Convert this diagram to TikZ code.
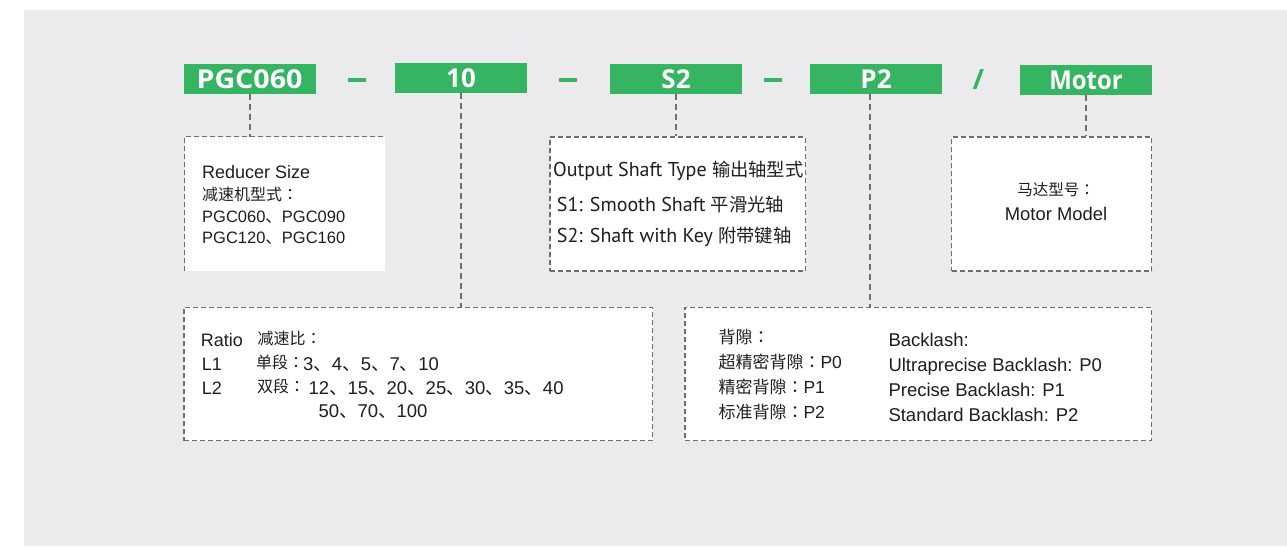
\documentclass[tikz,border=0pt]{standalone}
\usepackage{fontspec}
\setmainfont{Liberation Sans}
\newfontfamily\cjk{Noto Sans CJK SC}
\newfontfamily\cjkjp{Noto Sans CJK JP}
\newfontfamily\opb{Open Sans}
\newfontfamily\pts{PT Sans}
\newcommand\fsz[1]{\fontsize{#1}{#1}\selectfont}
\newcommand\zcol{{\cjkjp ：}}
\definecolor{bggray}{RGB}{235,235,237}
\definecolor{pgreen}{RGB}{53,181,98}
\definecolor{lgray}{RGB}{110,110,110}
\definecolor{txtc}{RGB}{30,30,30}
\tikzset{
  gbox/.style={fill=pgreen, minimum width=132, minimum height=30, inner sep=0,
    text=white, font=\opb\bfseries\fsz{26}, text height=19, text depth=0},
  gdash/.style={fill=pgreen, minimum width=18, minimum height=4, inner sep=0},
  infobox/.style={fill=white, draw=lgray, line width=1.2pt, dash pattern=on 5pt off 3pt, inner sep=0},
  plainbox/.style={fill=white, inner sep=0},
  edge/.style={draw=lgray, line width=1.2pt, dash pattern=on 5pt off 3pt},
  conn/.style={draw=lgray, line width=2pt, dash pattern=on 6pt off 4pt},
  txt/.style={anchor=base west, inner sep=0, text=txtc},
}
\begin{document}
\begin{tikzpicture}[x=1pt, y=-1pt]
\useasboundingbox (0,0) rectangle (1287,546);
\fill[white] (0,0) rectangle (1287,546);
\fill[bggray] (24,10) rectangle (1287,546);

% top code row
\node[gbox] (pgc) at (249.5,78.5) {\scalebox{1.1}[1]{PGC060}};
\node[gdash] (d1) at (357,80) {};
\node[gbox] (ten) at (461,78) {10};
\node[gdash] (d2) at (568,79.5) {};
\node[gbox] (s2) at (676,79) {S2};
\node[gdash] (d3) at (772.5,79.5) {};
\node[gbox] (p2) at (876,79) {P2};
\node[inner sep=0, text=pgreen, font=\opb\bfseries\fsz{28}, text height=20, text depth=0] (sl) at (978.5,79.5) {/};
\node[gbox] (mot) at (1086,79.5) {\scalebox{0.92}[1]{Motor}};

% boxes
\node[plainbox, minimum width=200, minimum height=134] (rs) at (285,204) {};
\draw[edge] (rs.south west) -- (rs.north west) -- (rs.north east);
\node[infobox, minimum width=255.5, minimum height=134] (os) at (677.75,204) {};
\node[infobox, minimum width=200, minimum height=134] (mm) at (1051.5,204) {};
\node[infobox, minimum width=468.5, minimum height=133.4] (ratio) at (418.25,374) {};
\node[infobox, minimum width=466.5, minimum height=133.4] (bl) at (918.25,374) {};

% connectors
\draw[conn] (pgc.south) -- (pgc.south |- rs.north);
\draw[conn] (ten.south) -- (ten.south |- ratio.north);
\draw[conn] (s2.south) -- (s2.south |- os.north);
\draw[conn] ([xshift=-6pt]p2.south) -- ([xshift=-6pt]p2.south |- bl.north);
\draw[conn] (mot.south) -- (mot.south |- mm.north);

% reducer size text
\node[txt, font=\fsz{18}] (rs1) at (202,178.7) {Reducer Size};
\node[txt, font=\cjk\fsz{16}] (rs2) at (202,200.5) {减速机型式\zcol};
\node[txt, font=\fsz{16.5}] (rs3) at (202,222.7) {PGC060{\cjk 、}PGC090};
\node[txt, font=\fsz{16.5}] (rs4) at (202,243.3) {PGC120{\cjk 、}PGC160};

% output shaft text
\node[txt, font=\pts\fsz{20}] (os1) at (553,176.7) {Output Shaft Type {\cjk\fsz{18.3}输出轴型式}};
\node[txt, font=\pts\fsz{20}] (os2) at (556.7,211.7) {S1: Smooth Shaft {\cjk\fsz{18.3}平滑光轴}};
\node[txt, font=\pts\fsz{20}] (os3) at (556.7,242.7) {S2: Shaft with Key {\cjk\fsz{18.3}附带键轴}};

% motor text
\node[anchor=base, inner sep=0, text=txtc, font=\cjk\fsz{15.5}] (mm1) at (1056,195) {马达型号\zcol};
\node[anchor=base, inner sep=0, text=txtc, font=\fsz{18.4}] (mm2) at (1056,220.7) {Motor Model};

% ratio text
\node[txt, font=\fsz{18}] (r1) at (200.7,346) {Ratio};
\node[txt, font=\cjk\fsz{16}] (r2) at (257.3,344.5) {减速比\zcol};
\node[txt, font=\fsz{18}] (r3) at (201.7,370.3) {L1};
\node[txt, font=\cjk\fsz{16}] (r4) at (256,368.5) {单段\zcol};
\node[txt, font=\fsz{18.5}] (r5) at (303,370.3) {3{\cjk 、}4{\cjk 、}5{\cjk 、}7{\cjk 、}10};
\node[txt, font=\fsz{18}] (r6) at (201.7,394.3) {L2};
\node[txt, font=\cjk\fsz{16}] (r7) at (257,392.5) {双段\zcol};
\node[txt, font=\fsz{18.5}] (r8) at (308.3,394.3) {12{\cjk 、}15{\cjk 、}20{\cjk 、}25{\cjk 、}30{\cjk 、}35{\cjk 、}40};
\node[txt, font=\fsz{18.5}] (r9) at (318.3,417.7) {50{\cjk 、}70{\cjk 、}100};

% backlash text
\node[txt, font=\cjk\fsz{17}] (b1) at (718.3,343) {背隙\zcol};
\node[txt, font=\cjk\fsz{17}] (b2) at (718.3,368.3) {超精密背隙\zcol{\fontspec{Liberation Sans}\fsz{17.5}P0}};
\node[txt, font=\cjk\fsz{17}] (b3) at (718.3,393.3) {精密背隙\zcol{\fontspec{Liberation Sans}\fsz{17.5}P1}};
\node[txt, font=\cjk\fsz{17}] (b4) at (718.3,418) {标准背隙\zcol{\fontspec{Liberation Sans}\fsz{17.5}P2}};
\node[txt, font=\fsz{18.5}] (b5) at (888.3,346) {Backlash:};
\node[txt, font=\fsz{18.5}] (b6) at (888.3,371) {Ultraprecise Backlash: P0};
\node[txt, font=\fsz{18.5}] (b7) at (888.3,396) {Precise Backlash: P1};
\node[txt, font=\fsz{18.5}] (b8) at (888.3,421) {Standard Backlash: P2};
\end{tikzpicture}
\end{document}
